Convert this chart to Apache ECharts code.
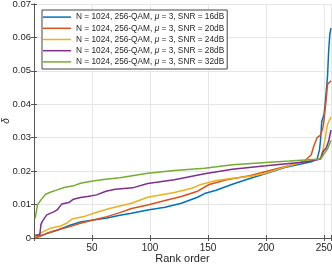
<!DOCTYPE html>
<html>
<head>
<meta charset="utf-8">
<script src="https://cdn.jsdelivr.net/npm/echarts@6/dist/echarts.min.js"></script>
<style>html,body{margin:0;padding:0;background:#fff;}#c{width:332px;height:264px;}</style>
</head>
<body>
<div id="c"></div>
<script>
var snrLabels = ['16dB', '20dB', '24dB', '28dB', '32dB'];
var xTicks = [50, 100, 150, 200, 250];
var yTicks = [0, 0.01, 0.02, 0.03, 0.04, 0.05, 0.06, 0.07];

var snr16 = [[1,0.0002],[5,0.0006],[11,0.0013],[20,0.0023],[31,0.0038],[40,0.0048],[51,0.0054],[63,0.0060],[74,0.0068],[84,0.0074],[98,0.0084],[113,0.0092],[127,0.0104],[141,0.0122],[147,0.0133],[157,0.0143],[171,0.0161],[186,0.0178],[200,0.0193],[216,0.0211],[228,0.0220],[239,0.0228],[244,0.0236],[246,0.0262],[247,0.0293],[248,0.0348],[249,0.0348],[250,0.0370],[251,0.0403],[253,0.0483],[254,0.0560],[255,0.0610],[256,0.0628]];
var snr20 = [[1,0.0001],[5,0.0005],[11,0.0014],[20,0.0024],[31,0.0034],[40,0.0044],[51,0.0054],[63,0.0064],[74,0.0076],[84,0.0088],[98,0.0099],[113,0.0112],[127,0.0124],[141,0.0140],[151,0.0160],[166,0.0174],[186,0.0186],[200,0.0199],[216,0.0213],[233,0.0229],[239,0.0249],[241,0.0273],[244,0.0300],[247,0.0308],[249,0.0330],[250,0.0353],[252,0.0420],[253,0.0460],[256,0.0470]];
var snr24 = [[1,0.0004],[8,0.0019],[14,0.0029],[23,0.0036],[28,0.0044],[33,0.0057],[43,0.0064],[54,0.0077],[66,0.0089],[74,0.0096],[84,0.0104],[98,0.0122],[121,0.0136],[136,0.0149],[143,0.0159],[157,0.0172],[171,0.0179],[186,0.0184],[200,0.0194],[216,0.0212],[233,0.0229],[243,0.0234],[247,0.0239],[249,0.0263],[251,0.0299],[253,0.0340],[256,0.0362]];
var snr28 = [[1,0.0008],[5,0.0010],[6,0.0040],[7,0.0049],[11,0.0069],[17,0.0078],[20,0.0084],[24,0.0102],[30,0.0106],[34,0.0116],[40,0.0121],[46,0.0124],[54,0.0129],[62,0.0140],[70,0.0146],[85,0.0150],[98,0.0163],[121,0.0174],[147,0.0192],[171,0.0206],[200,0.0216],[220,0.0223],[237,0.0229],[247,0.0236],[249,0.0257],[252,0.0270],[254,0.0290],[256,0.0323]];
var snr32 = [[1,0.0059],[3,0.0099],[6,0.0114],[10,0.0131],[14,0.0137],[20,0.0144],[26,0.0151],[34,0.0156],[40,0.0164],[48,0.0169],[60,0.0175],[74,0.0180],[98,0.0194],[121,0.0202],[147,0.0209],[171,0.0219],[200,0.0226],[220,0.0230],[237,0.0234],[247,0.0236],[250,0.0252],[253,0.0266],[256,0.0292]];

var colors = ['#0072BD', '#D95319', '#EDB120', '#7E2F8E', '#77AC30'];
var seriesData = [snr16, snr20, snr24, snr28, snr32];
var names = snrLabels.map(function (s) { return 'N = 1024, 256-QAM, μ = 3, SNR = ' + s; });

var font = '"Liberation Sans", Arial, sans-serif';
var axisCol = '#262626';
var lineCol = '#555';
var gridCol = '#e6e6e6';

var chart = echarts.init(document.getElementById('c'), null, {renderer: 'canvas'});
chart.setOption({
  animation: false,
  color: colors,
  grid: {left: 34, right: 1, top: 4, bottom: 26, containLabel: false, outerBoundsMode: 'none'},
  legend: {
    orient: 'vertical', left: 42, top: 10,
    data: names,
    itemWidth: 28, itemHeight: 1.5, itemGap: 0, icon: 'rect',
    padding: [1.5, 3, 1.5, 1],
    borderColor: '#444', borderWidth: 1, backgroundColor: '#fff',
    formatter: function (n) { return n.replace('μ', '{i|μ}'); },
    textStyle: {fontFamily: font, fontSize: 8.3, color: axisCol, lineHeight: 11.2,
      rich: {i: {fontFamily: font, fontSize: 8.3, fontStyle: 'italic', color: axisCol, lineHeight: 11.2}}}
  },
  xAxis: [{
    type: 'value', min: 0, max: 256, interval: 50, position: 'bottom',
    name: 'Rank order', nameLocation: 'middle', nameGap: 15, nameMoveOverlap: false,
    nameTextStyle: {fontFamily: font, fontSize: 11, color: axisCol},
    axisLine: {show: true, lineStyle: {color: lineCol, width: 1}},
    axisTick: {show: true, inside: true, length: 3, lineStyle: {color: lineCol}},
    axisLabel: {fontFamily: font, fontSize: 10, color: axisCol, margin: 5,
      formatter: function (v) { return xTicks.indexOf(v) >= 0 ? String(v) : ''; }},
    splitLine: {show: true, lineStyle: {color: gridCol, width: 1}}
  }, {
    type: 'value', min: 0, max: 256, interval: 50, position: 'top',
    axisLine: {show: true, lineStyle: {color: lineCol, width: 1}},
    axisTick: {show: true, inside: true, length: 3, lineStyle: {color: lineCol}},
    axisLabel: {show: false}, splitLine: {show: false}
  }],
  yAxis: [{
    type: 'value', min: 0, max: 0.07, interval: 0.01, position: 'left',
    name: 'δ', nameLocation: 'middle', nameGap: 23, nameRotate: 90, nameMoveOverlap: false,
    nameTextStyle: {fontFamily: font, fontSize: 10, color: axisCol, fontStyle: 'italic'},
    axisLine: {show: true, lineStyle: {color: lineCol, width: 1}},
    axisTick: {show: true, inside: true, length: 3, lineStyle: {color: lineCol}},
    axisLabel: {fontFamily: font, fontSize: 9.5, color: axisCol, margin: 3,
      formatter: function (v) {
        for (var i = 0; i < yTicks.length; i++) {
          if (Math.abs(v - yTicks[i]) < 1e-9) return yTicks[i] === 0 ? '0' : yTicks[i].toFixed(2);
        }
        return '';
      }},
    splitLine: {show: true, lineStyle: {color: gridCol, width: 1}}
  }, {
    type: 'value', min: 0, max: 0.07, interval: 0.01, position: 'right',
    axisLine: {show: true, lineStyle: {color: lineCol, width: 1}},
    axisTick: {show: true, inside: true, length: 3, lineStyle: {color: lineCol}},
    axisLabel: {show: false}, splitLine: {show: false}
  }],
  series: seriesData.map(function (d, i) {
    return {
      name: names[i], type: 'line', data: d, xAxisIndex: 0, yAxisIndex: 0,
      showSymbol: false, symbol: 'none',
      lineStyle: {width: 1.5, color: colors[i]},
      itemStyle: {color: colors[i]}
    };
  })
});
</script>
</body>
</html>
